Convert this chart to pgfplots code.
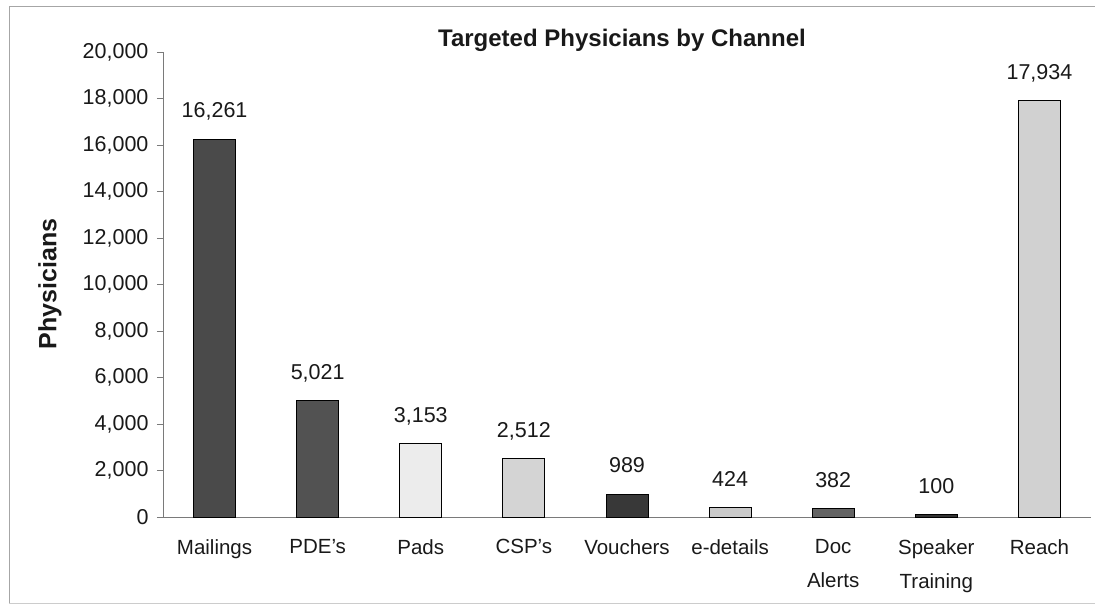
\documentclass[border=0pt]{standalone}
\usepackage{pgfplots}
\pgfplotsset{compat=1.18}
\usepackage{fontspec}
\setmainfont{Liberation Sans}
\definecolor{c1}{HTML}{4A4A4A}
\definecolor{c2}{HTML}{525252}
\definecolor{c3}{HTML}{ECECEC}
\definecolor{c4}{HTML}{D4D4D4}
\definecolor{c5}{HTML}{383838}
\definecolor{c6}{HTML}{CACACA}
\definecolor{c7}{HTML}{636363}
\definecolor{c8}{HTML}{333333}
\definecolor{c9}{HTML}{D1D1D1}
\definecolor{axgray}{HTML}{7A7A7A}
\begin{document}
\begin{tikzpicture}[x=1pt,y=1pt]
\useasboundingbox (0,0) rectangle (1095,609);
\draw[gray!70, line width=1pt] (9,5) -- (9,602) -- (1095,602);
\draw[gray!40, line width=1pt] (9,5) -- (1095,5);
\node[font=\fontsize{24}{28}\selectfont\bfseries, text=black!90, anchor=base] at (622,562) {Targeted Physicians by Channel};
\node[font=\fontsize{25}{29}\selectfont\bfseries, text=black!90, rotate=90] at (50,325) {Physicians};
\begin{axis}[
  at={(163pt,92pt)}, anchor=south west,
  scale only axis, width=928pt, height=465pt,
  xmin=-0.5, xmax=8.5, ymin=0, ymax=20000,
  axis x line*=bottom, axis y line*=left,
  axis line style={axgray, line width=0.8pt},
  ybar, bar width=42pt, bar shift=0pt,
  ytick={0,2000,...,20000},
  xtick={0,...,8},
  xticklabels={Mailings,PDE's,Pads,CSP's,Vouchers,e-details,Doc\\Alerts,Speaker\\Training,Reach},
  major x tick style={draw=none},
  extra x ticks={-0.5,0.5,...,8.5},
  extra x tick labels={},
  extra x tick style={major tick length=6pt, tick style={axgray, line width=0.8pt}},
  tick align=outside,
  major tick length=6pt,
  y tick style={axgray, line width=0.8pt},
  xticklabel style={font=\fontsize{20.5}{34}\selectfont, text=black!90, align=center, anchor=north, yshift=-13pt},
  yticklabel style={font=\fontsize{21.5}{26}\selectfont, text=black!90, xshift=-5pt},
  /pgf/number format/.cd, fixed, precision=0, 1000 sep={,}, assume math mode=true,
  /pgfplots/.cd,
  scaled y ticks=false,
  nodes near coords,
  every node near coord/.append style={font=\fontsize{21.5}{26}\selectfont, text=black!90, anchor=base, inner sep=0pt, yshift=21pt},
  clip=false,
]
\addplot[fill=c1, draw=black, line width=0.8pt] coordinates {(0,16261)};
\addplot[fill=c2, draw=black, line width=0.8pt] coordinates {(1,5021)};
\addplot[fill=c3, draw=black, line width=0.8pt] coordinates {(2,3153)};
\addplot[fill=c4, draw=black, line width=0.8pt] coordinates {(3,2512)};
\addplot[fill=c5, draw=black, line width=0.8pt] coordinates {(4,989)};
\addplot[fill=c6, draw=black, line width=0.8pt] coordinates {(5,424)};
\addplot[fill=c7, draw=black, line width=0.8pt] coordinates {(6,382)};
\addplot[fill=c8, draw=black, line width=0.8pt] coordinates {(7,100)};
\addplot[fill=c9, draw=black, line width=0.8pt] coordinates {(8,17934)};
\end{axis}
\end{tikzpicture}
\end{document}
